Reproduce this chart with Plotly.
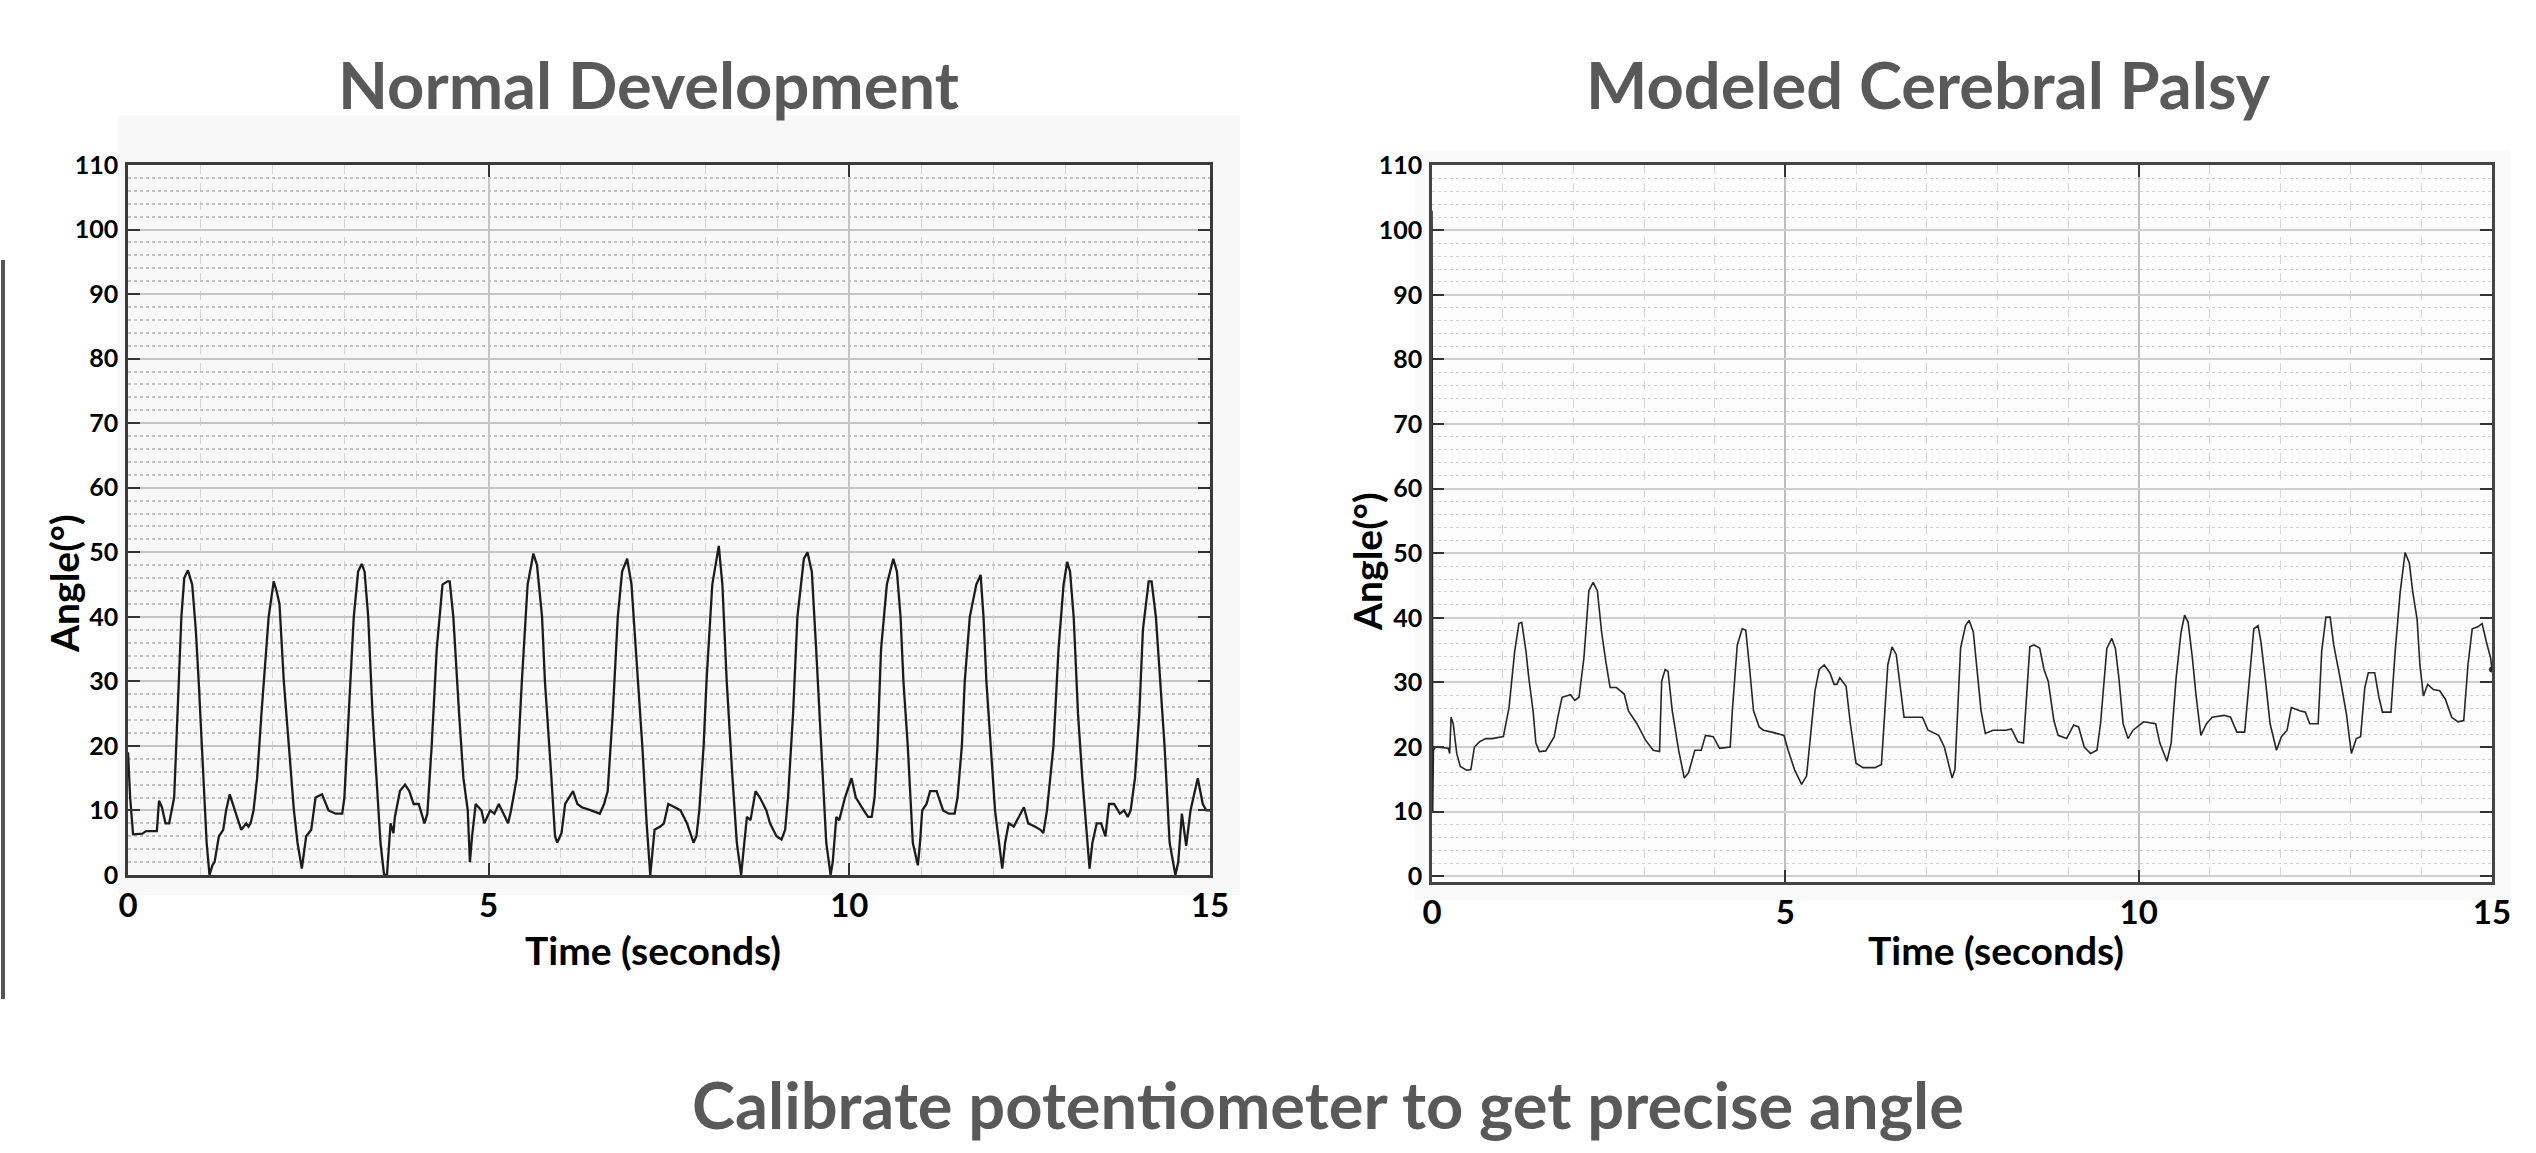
import plotly.graph_objects as go

# ---------------- data (time in s, angle in degrees) ----------------
ND_SAMPLES = [
    (0.00, 19), (0.03, 12), (0.07, 6.3), (0.20, 6.4), (0.25, 6.8), (0.40, 6.8), (0.43, 11.5), (0.47, 10.5),
    (0.52, 8), (0.57, 8), (0.64, 12), (0.70, 30), (0.74, 40), (0.78, 46), (0.83, 47.2), (0.89, 45),
    (0.94, 38), (0.98, 30), (1.05, 15), (1.09, 5), (1.13, 0), (1.17, 1.5), (1.20, 2), (1.26, 6),
    (1.32, 7), (1.36, 10), (1.41, 12.5), (1.45, 11), (1.54, 8), (1.57, 7), (1.64, 8), (1.67, 7.5),
    (1.70, 8), (1.74, 10), (1.79, 15), (1.85, 25), (1.95, 40), (2.02, 45.5), (2.06, 44), (2.10, 42),
    (2.16, 30), (2.23, 20), (2.30, 10), (2.35, 5), (2.41, 1), (2.47, 6), (2.54, 7), (2.60, 12),
    (2.69, 12.5), (2.78, 10), (2.88, 9.5), (2.97, 9.5), (3.00, 12), (3.06, 25), (3.13, 40), (3.19, 47),
    (3.24, 48.2), (3.28, 47), (3.33, 40), (3.39, 25), (3.44, 15), (3.50, 5), (3.55, 0), (3.59, 0),
    (3.64, 8), (3.68, 6.5), (3.70, 9), (3.77, 13), (3.84, 14), (3.90, 13), (3.96, 11), (4.03, 11),
    (4.11, 8), (4.15, 9.5), (4.21, 20), (4.28, 35), (4.36, 45), (4.43, 45.5), (4.46, 45.5), (4.51, 40),
    (4.59, 25), (4.65, 15), (4.71, 10), (4.74, 2), (4.77, 6), (4.82, 11), (4.90, 10), (4.94, 8),
    (5.02, 10), (5.08, 9.5), (5.14, 11), (5.27, 8), (5.31, 10), (5.39, 15), (5.46, 30), (5.54, 45),
    (5.62, 49.8), (5.67, 48), (5.74, 40), (5.78, 30), (5.87, 15), (5.92, 6), (5.95, 5), (6.01, 6.5),
    (6.06, 11), (6.11, 12), (6.17, 13), (6.23, 11), (6.29, 10.5), (6.42, 10), (6.54, 9.5), (6.60, 11),
    (6.65, 13), (6.72, 25), (6.79, 40), (6.85, 47), (6.92, 49), (6.98, 45), (7.04, 35), (7.13, 20),
    (7.19, 8), (7.24, 0), (7.30, 7), (7.38, 7.5), (7.43, 8), (7.49, 11), (7.58, 10.5), (7.66, 10),
    (7.75, 8), (7.84, 5), (7.88, 6), (7.92, 10), (7.98, 20), (8.02, 30), (8.10, 45), (8.19, 51),
    (8.24, 45), (8.30, 30), (8.38, 15), (8.44, 5), (8.50, 0), (8.55, 5), (8.58, 9), (8.63, 8.5),
    (8.70, 13), (8.76, 12), (8.85, 10), (8.90, 8), (8.99, 6), (9.06, 5.5), (9.11, 7), (9.15, 12),
    (9.22, 25), (9.28, 40), (9.37, 49), (9.42, 50), (9.48, 47), (9.54, 35), (9.61, 20), (9.68, 5),
    (9.74, 0), (9.77, 2), (9.82, 9), (9.86, 8.5), (9.94, 12), (10.03, 15), (10.09, 12), (10.14, 11),
    (10.20, 10), (10.26, 9), (10.31, 9), (10.35, 12), (10.39, 20), (10.44, 35), (10.52, 45), (10.61, 49),
    (10.66, 47), (10.71, 40), (10.75, 30), (10.81, 20), (10.88, 5), (10.95, 1.5), (10.98, 5), (11.01, 10),
    (11.07, 11), (11.12, 13), (11.21, 13), (11.30, 10), (11.38, 9.5), (11.46, 9.5), (11.50, 12), (11.56, 20),
    (11.60, 30), (11.67, 40), (11.76, 45), (11.82, 46.5), (11.86, 40), (11.90, 30), (11.96, 20), (12.02, 10),
    (12.12, 1), (12.16, 5), (12.21, 8), (12.28, 7.5), (12.42, 10.5), (12.48, 8), (12.57, 7.5), (12.65, 7),
    (12.69, 6.5), (12.74, 10), (12.83, 20), (12.90, 35), (12.97, 45), (13.02, 48.5), (13.06, 47), (13.11, 40),
    (13.17, 25), (13.23, 15), (13.33, 1), (13.37, 5), (13.43, 8), (13.49, 8), (13.55, 6), (13.60, 11),
    (13.67, 11), (13.75, 9.5), (13.81, 10), (13.86, 9), (13.90, 10), (13.96, 15), (14.02, 25), (14.07, 38),
    (14.15, 45.5), (14.19, 45.5), (14.25, 40), (14.31, 30), (14.37, 20), (14.44, 5), (14.52, 0), (14.56, 2),
    (14.61, 9.5), (14.67, 4.5), (14.73, 10), (14.83, 15), (14.90, 11), (14.95, 10), (15.00, 10),
]

CP_SAMPLES = [
    (0.00, 103), (0.005, 70), (0.01, 10), (0.02, 19.5), (0.05, 20), (0.23, 19.8), (0.25, 19), (0.27, 24.6),
    (0.30, 23.6), (0.35, 19), (0.40, 17), (0.49, 16.4), (0.55, 16.5), (0.60, 20), (0.67, 20.8), (0.76, 21.3),
    (0.85, 21.3), (1.01, 21.6), (1.09, 26.1), (1.17, 34.8), (1.23, 39.1), (1.27, 39.3), (1.33, 34.8), (1.37, 30.7),
    (1.43, 25.6), (1.47, 20.6), (1.52, 19.3), (1.61, 19.4), (1.73, 21.6), (1.78, 24.6), (1.84, 27.7), (1.96, 28.1),
    (2.02, 27.2), (2.08, 27.7), (2.15, 33.8), (2.22, 44.2), (2.28, 45.5), (2.34, 44.2), (2.40, 37.8), (2.46, 33.2),
    (2.52, 29.2), (2.61, 29.2), (2.72, 28.2), (2.78, 25.6), (2.90, 23.6), (3.02, 21.1), (3.13, 19.5), (3.22, 19.3),
    (3.25, 30.2), (3.30, 32), (3.34, 31.7), (3.40, 25.6), (3.49, 19.5), (3.57, 15.2), (3.63, 16), (3.72, 19.5),
    (3.81, 19.5), (3.87, 21.8), (3.98, 21.6), (4.07, 19.8), (4.22, 20), (4.25, 25.6), (4.32, 35.8), (4.39, 38.3),
    (4.44, 38.1), (4.49, 32.7), (4.55, 25.6), (4.63, 23.1), (4.69, 22.6), (4.81, 22.3), (4.98, 21.8), (5.04, 19.5),
    (5.13, 16.5), (5.23, 14.2), (5.30, 15.5), (5.36, 22.1), (5.42, 28.7), (5.48, 32), (5.55, 32.7), (5.63, 31.5),
    (5.69, 29.7), (5.73, 29.7), (5.77, 30.7), (5.86, 29.4), (5.92, 23.6), (6.00, 17.5), (6.10, 16.8), (6.27, 16.8),
    (6.36, 17.3), (6.45, 32.7), (6.51, 35.5), (6.57, 34.3), (6.61, 30.7), (6.68, 24.6), (6.77, 24.6), (6.94, 24.6),
    (7.02, 22.6), (7.17, 21.8), (7.25, 20), (7.31, 17.5), (7.36, 15.2), (7.40, 16.5), (7.48, 35.3), (7.55, 38.8),
    (7.60, 39.6), (7.66, 37.8), (7.71, 31.7), (7.77, 25.6), (7.83, 22.1), (7.94, 22.6), (8.12, 22.6), (8.20, 22.8),
    (8.29, 20.8), (8.37, 20.6), (8.46, 35.5), (8.52, 35.8), (8.60, 35.3), (8.66, 32), (8.72, 30.2), (8.80, 24.1),
    (8.86, 21.8), (8.98, 21.3), (9.08, 23.4), (9.15, 23.1), (9.23, 20), (9.32, 19), (9.41, 19.5), (9.46, 23.6),
    (9.55, 35.3), (9.62, 36.8), (9.67, 35.3), (9.72, 30.7), (9.78, 23.6), (9.85, 21.3), (9.92, 22.6), (10.07, 23.9),
    (10.24, 23.6), (10.30, 20.6), (10.40, 17.8), (10.46, 20.6), (10.53, 30.7), (10.60, 37.8), (10.65, 40.4), (10.70, 39.3),
    (10.76, 33.8), (10.81, 28.2), (10.88, 21.8), (10.96, 23.6), (11.04, 24.6), (11.21, 24.9), (11.30, 24.6), (11.39, 22.3),
    (11.50, 22.3), (11.57, 30.7), (11.63, 38.3), (11.69, 38.8), (11.73, 36.3), (11.79, 30.7), (11.86, 23.6), (11.95, 19.5),
    (12.02, 21.6), (12.10, 22.6), (12.16, 26.1), (12.28, 25.6), (12.36, 25.4), (12.42, 23.6), (12.54, 23.6), (12.59, 34.8),
    (12.65, 40.1), (12.71, 40.1), (12.76, 35.8), (12.85, 30.7), (12.94, 25.1), (13.01, 19), (13.08, 21.3), (13.14, 21.6),
    (13.20, 29.2), (13.25, 31.5), (13.34, 31.5), (13.40, 27.7), (13.45, 25.4), (13.57, 25.4), (13.63, 34.8), (13.70, 43.9),
    (13.77, 50.1), (13.83, 48.5), (13.88, 43.9), (13.94, 39.8), (13.98, 32.7), (14.03, 27.9), (14.09, 29.7), (14.17, 28.9),
    (14.26, 28.7), (14.34, 27.4), (14.43, 24.6), (14.52, 23.9), (14.60, 24.1), (14.66, 32.7), (14.72, 38.3), (14.80, 38.6),
    (14.86, 39.1), (14.92, 36.3), (14.98, 33.8), (15.00, 32),
]

nd_time = [p[0] for p in ND_SAMPLES]
nd_angle = [p[1] for p in ND_SAMPLES]
cp_time = [p[0] for p in CP_SAMPLES]
cp_angle = [p[1] for p in CP_SAMPLES]

X_TICKS = [0, 5, 10, 15]
Y_TICKS = list(range(0, 111, 10))

TITLE_LEFT = "Normal Development"
TITLE_RIGHT = "Modeled Cerebral Palsy"
CAPTION = "Calibrate potentiometer to get precise angle"
X_TITLE = "Time (seconds)"
Y_TITLE = "Angle(°)"

# ---------------- layout helpers ----------------
W, H = 2536, 1153
FONT = "Lato"


def fx(px):
    return px / W


def fy(px):
    return 1 - px / H


fig = go.Figure()
fig.add_trace(go.Scatter(x=nd_time, y=nd_angle, mode="lines",
                         line=dict(color="#1c1c1c", width=2.3),
                         xaxis="x", yaxis="y", showlegend=False, hoverinfo="skip"))
fig.add_trace(go.Scatter(x=cp_time, y=cp_angle, mode="lines",
                         line=dict(color="#262626", width=1.6),
                         xaxis="x2", yaxis="y2", showlegend=False, hoverinfo="skip"))
fig.add_trace(go.Scatter(x=[cp_time[-1]], y=[cp_angle[-1]], mode="markers",
                         marker=dict(color="#262626", size=6),
                         xaxis="x2", yaxis="y2", showlegend=False, hoverinfo="skip"))

tick_y_font = dict(family=FONT, size=25, color="black", weight="bold")
tick_x_font = dict(family=FONT, size=33, color="black", weight="bold")


def xaxis(domain, anchor, grid, minor_grid, line_color):
    return dict(domain=domain, anchor=anchor, range=[0, 15], tickvals=X_TICKS,
                automargin=False,
                showgrid=True, gridcolor=grid, gridwidth=1.5,
                minor=dict(dtick=1, showgrid=True, gridcolor=minor_grid, griddash="dash",
                           gridwidth=1.2, ticks=""),
                showline=True, linecolor=line_color, linewidth=2.5, mirror="ticks",
                ticks="inside", ticklen=12, tickwidth=2, tickcolor="#333333",
                zeroline=False, tickfont=tick_x_font, fixedrange=True)


def yaxis(domain, anchor, rng, grid, minor_grid, line_color, minor_width):
    return dict(domain=domain, anchor=anchor, range=rng, tickvals=Y_TICKS,
                automargin=False,
                showgrid=True, gridcolor=grid, gridwidth=2,
                minor=dict(dtick=2, showgrid=True, gridcolor=minor_grid, griddash="dot",
                           gridwidth=minor_width, ticks=""),
                showline=True, linecolor=line_color, linewidth=2.5, mirror="ticks",
                ticks="inside", ticklen=12, tickwidth=2, tickcolor="#333333",
                zeroline=False, tickfont=tick_y_font, ticklabelstandoff=2, fixedrange=True)


fig.update_layout(
    width=W, height=H, autosize=False,
    margin=dict(l=0, r=0, t=0, b=0, pad=0, autoexpand=False),
    paper_bgcolor="white", plot_bgcolor="#f5f5f5",
    showlegend=False,
    xaxis=xaxis([fx(128), fx(1210)], "y", "#c6c6c6", "#d4d4d4", "#3a3a3a"),
    yaxis=yaxis([fy(875), fy(165)], "x", [0, 110], "#c4c4c4", "#c2c2c2", "#3a3a3a", 1.8),
    xaxis2=xaxis([fx(1432), fx(2492)], "y2", "#bdbdbd", "#d6d6d6", "#444444"),
    yaxis2=yaxis([fy(882), fy(165)], "x2", [-0.9, 110.1], "#cfcfcf", "#d3d3d3", "#444444", 1.1),
)

# right plot gets a lighter background
fig.add_shape(type="rect", xref="x2", yref="y2", x0=0, x1=15, y0=-0.9, y1=110.1,
              fillcolor="#fcfcfc", line=dict(width=0), layer="below")
# faint panels behind the plots and a slide edge line
fig.add_shape(type="rect", xref="paper", yref="paper", x0=fx(118), x1=fx(1240), y0=fy(895), y1=fy(115),
              fillcolor="#f8f8f8", line=dict(width=0), layer="below")
fig.add_shape(type="rect", xref="paper", yref="paper", x0=fx(1415), x1=fx(2510), y0=fy(900), y1=fy(150),
              fillcolor="#fafafa", line=dict(width=0), layer="below")
fig.add_shape(type="line", xref="paper", yref="paper", x0=fx(3), x1=fx(3), y0=fy(999), y1=fy(260),
              line=dict(color="#555555", width=4))

title_font = dict(family=FONT, size=65, color="#595959", weight="bold")
axis_title_font = dict(family=FONT, size=39, color="black", weight="bold")

ann = [
    dict(text=TITLE_LEFT, x=fx(648), y=fy(84), font=title_font),
    dict(text=TITLE_RIGHT, x=fx(1928), y=fy(84), font=title_font),
    dict(text=CAPTION, x=fx(1328), y=fy(1104), font=title_font),
    dict(text=X_TITLE, x=fx(653), y=fy(950), font=axis_title_font),
    dict(text=X_TITLE, x=fx(1996), y=fy(950), font=axis_title_font),
    dict(text=Y_TITLE, x=fx(64), y=fy(584), font=axis_title_font, textangle=-90),
    dict(text=Y_TITLE, x=fx(1367), y=fy(562), font=axis_title_font, textangle=-90),
]
for a in ann:
    fig.add_annotation(xref="paper", yref="paper", xanchor="center", yanchor="middle",
                       showarrow=False, **a)

fig.write_html("out.html", config={"displayModeBar": False},
               post_script="document.body.style.margin='0';")
